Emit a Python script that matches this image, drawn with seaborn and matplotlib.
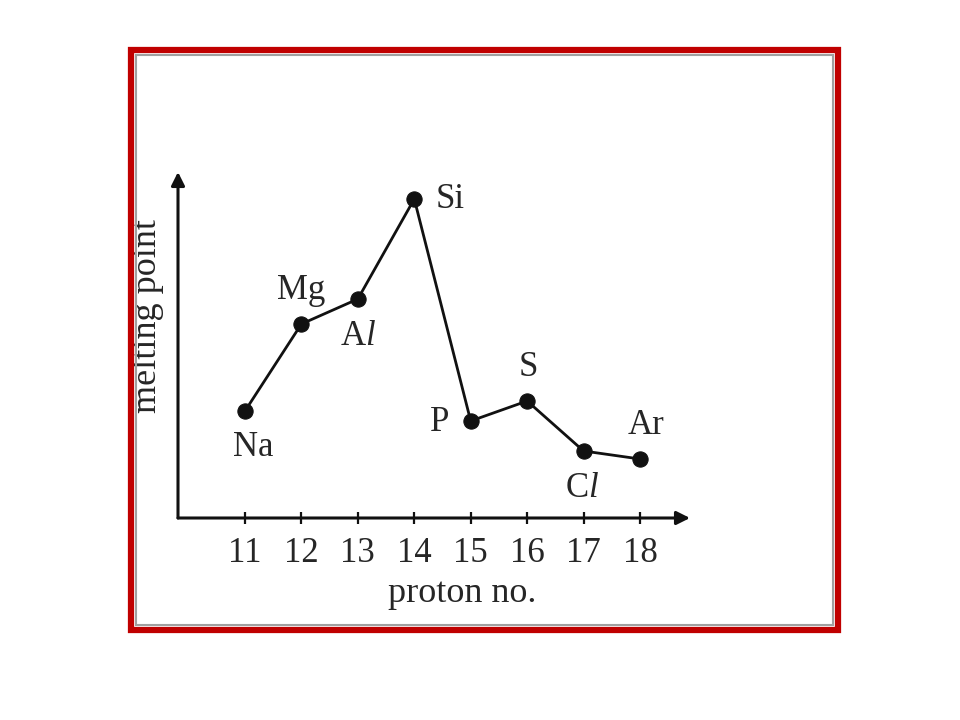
import numpy as np
import pandas as pd
import seaborn as sns
import matplotlib.pyplot as plt
from matplotlib.patches import Rectangle

# data (melting point in arbitrary height units, no y scale shown)
proton_no = [11, 12, 13, 14, 15, 16, 17, 18]
melting = [107, 194, 219, 319, 97, 117, 67, 59]
elements = ["Na", "Mg", "A$\\mathit{l}$", "Si", "P", "S", "C$\\mathit{l}$", "Ar"]

df = pd.DataFrame({"proton no.": proton_no, "melting point": melting})

sns.set_theme(style="white")
plt.rcParams["font.family"] = ["Liberation Serif", "DejaVu Serif"]
plt.rcParams["mathtext.fontset"] = "custom"
plt.rcParams["mathtext.rm"] = "Liberation Serif"
plt.rcParams["mathtext.it"] = "Liberation Serif:italic"

W, H = 960, 720
fig = plt.figure(figsize=(9.6, 7.2), dpi=100)
fig.patch.set_facecolor("white")

# frame
fig.add_artist(Rectangle((131 / W, 1 - 630 / H), 707 / W, 580 / H, transform=fig.transFigure,
                         fill=False, edgecolor="#c00000", linewidth=4.5))
fig.add_artist(Rectangle((136 / W, 1 - 625 / H), 697 / W, 570 / H, transform=fig.transFigure,
                         fill=False, edgecolor="#a0a0a0", linewidth=1.5))

ax = fig.add_axes([178 / W, 1 - 518 / H, (690 - 178) / W, (518 - 172) / H])
ax.set_facecolor("none")

sns.lineplot(data=df, x="proton no.", y="melting point", ax=ax, color="#111111",
             linewidth=2.0, marker="o", markersize=11, markeredgecolor="#111111")

ax.set_xlim(9.813, 18.886)
ax.set_ylim(0, 346)
for s in ax.spines.values():
    s.set_visible(False)

txt = "#262626"
ax.set_xticks(proton_no)
ax.set_yticks([])
ax.tick_params(axis="x", direction="inout", length=9, width=1.6, color="#111111",
               labelsize=25, pad=9, bottom=True, labelcolor=txt)
ax.set_xlabel("proton no.", fontsize=26, color=txt)
ax.set_ylabel("melting point", fontsize=26, color=txt)
ax.xaxis.set_label_coords(0.555, -0.217)
ax.xaxis.label.set_va("center")
ax.yaxis.set_label_coords(-0.0605, 0.584)
ax.yaxis.label.set_va("center")

# arrows for axes
arr = dict(arrowstyle="-|>", color="#111111", linewidth=2.2, mutation_scale=20,
           shrinkA=0, shrinkB=0)
ax.annotate("", xy=(1, 0), xytext=(0, 0), xycoords="axes fraction", arrowprops=arr,
            annotation_clip=False)
ax.annotate("", xy=(0, 1), xytext=(0, 0), xycoords="axes fraction", arrowprops=arr,
            annotation_clip=False)

# element labels (offsets in points)
offsets = [(6, -26), (0, 24), (0, -27), (26, 0), (-22, -1), (1, 24), (-1, -27), (4, 24)]
for x, y, lab, off in zip(proton_no, melting, elements, offsets):
    ax.annotate(lab, (x, y), xytext=off, textcoords="offset points", ha="center",
                va="center", fontsize=25, color=txt)

fig.savefig("out.png", dpi=100)
